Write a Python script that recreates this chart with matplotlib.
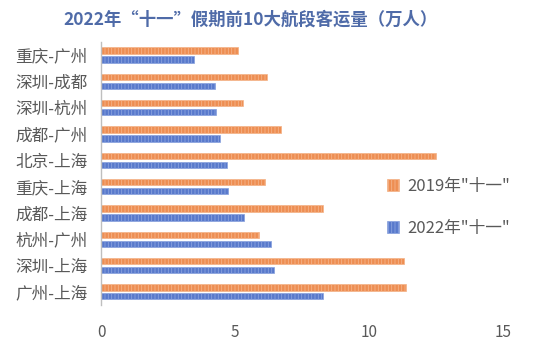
import numpy as np
import matplotlib.pyplot as plt

plt.rcParams['font.family'] = ['Noto Sans CJK SC', 'DejaVu Sans']
plt.rcParams['hatch.linewidth'] = 0.6

# donnees
routes = ['重庆-广州', '深圳-成都', '深圳-杭州', '成都-广州', '北京-上海',
          '重庆-上海', '成都-上海', '杭州-广州', '深圳-上海', '广州-上海']
v2019 = [5.1, 6.2, 5.3, 6.7, 12.5, 6.1, 8.3, 5.9, 11.3, 11.4]
v2022 = [3.45, 4.25, 4.3, 4.45, 4.7, 4.75, 5.35, 6.35, 6.45, 8.3]
lab2019 = '2019年"十一"'
lab2022 = '2022年"十一"'

fig = plt.figure(figsize=(5.35, 3.49), dpi=100)
ax = fig.add_axes([0.189, 0.126, 0.751, 0.754])

y = np.arange(len(routes))
h = 0.24
ax.barh(y - 0.17, v2019, height=h, color='#EE8E52', edgecolor='#F4B48A',
        hatch='|||||', linewidth=0.5, label=lab2019)
ax.barh(y + 0.17, v2022, height=h, color='#5879CC', edgecolor='#8AA3DE',
        hatch='|||||', linewidth=0.5, label=lab2022)

ax.set_ylim(len(routes) - 0.5, -0.5)
ax.set_xlim(0, 15)
ax.set_xticks([0, 5, 10, 15])
ax.set_yticks(y)
ax.set_yticklabels(routes, fontsize=12, color='#595959')
ax.tick_params(axis='x', labelsize=11, labelcolor='#595959', length=0, pad=14)
ax.tick_params(axis='y', length=0, pad=10)

for s in ['top', 'right', 'bottom']:
    ax.spines[s].set_visible(False)
ax.spines['left'].set_color('#BFBFBF')
ax.spines['left'].set_linewidth(1)

ax.legend(loc='center left', bbox_to_anchor=(0.675, 0.37), frameon=False,
          fontsize=12, labelcolor='#595959', labelspacing=1.5,
          handlelength=0.7, handleheight=0.7, handletextpad=0.5)

fig.text(0.468, 0.945, '2022年“十一”假期前10大航段客运量（万人）', ha='center', va='center',
         fontsize=12.5, color='#4F6BA8', fontweight='semibold')

fig.savefig('out.png', dpi=100)
